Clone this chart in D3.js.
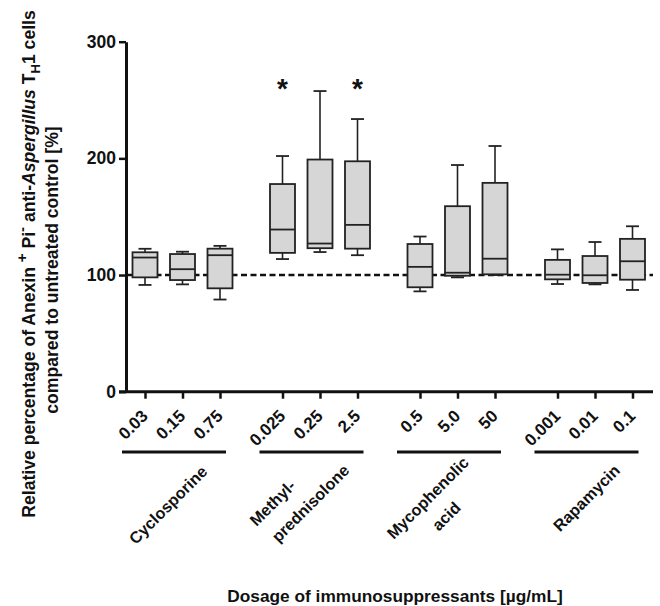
<!DOCTYPE html>
<html>
<head>
<meta charset="utf-8">
<script src="https://cdn.jsdelivr.net/npm/d3@7"></script>
<style>
  body { margin: 0; background: #fff; }
  text { font-family: "Liberation Sans", Arial, sans-serif; font-weight: bold; fill: #111; }
</style>
</head>
<body>
<div class="chart"></div>
<script>
// data
const doses = ['0.03','0.15','0.75','0.025','0.25','2.5','0.5','5.0','50','0.001','0.01','0.1'];
const drugs = [['Cyclosporine'], ['Methyl-','prednisolone'], ['Mycophenolic','acid'], ['Rapamycin']];
const whiskerLow  = [91.5, 92, 79,   113.7, 119.7, 117,   86, 98, 100,      92.3, 92, 87.2];
const q1          = [98, 95.7, 88.6, 119, 123, 122.6,     89.5, 99.4, 100.6, 96.3, 93.2, 96];
const medians     = [115, 105, 117,  139, 127, 143,       107, 102, 114,    100.3, 99.8, 111.8];
const q3          = [119.5, 118, 122.6, 178, 199, 197.5,  126.6, 159, 179,  113, 116.3, 131];
const whiskerHigh = [122.5, 120, 125, 202, 257.7, 233.7,  133, 194.3, 210.6, 122, 128.3, 141.8];
const significant = ['0.025', '2.5'];
const yTicks = [0, 100, 200, 300];
const controlLevel = 100;

// label placement for the drug names (offset from group centre, anchor)
const drugLabelPos = [
    {dx: -2, y: 509, anchor: 'middle'},
    {dx: -55, y: 527, anchor: 'start'},
    {dx: -8, y: 511, anchor: 'middle'},
    {dx: 4, y: 502, anchor: 'middle'}
];

const width = 660, height = 606;
const boxW = 25, capW = 13;

const svg = d3.select('.chart').append('svg')
    .attr('width', width)
    .attr('height', height)

const slot = i => Math.floor(i/3)*(3 + 2/3) + (i%3);
const x = d3.scaleLinear().domain([0, 13]).range([145, 632.5]);
const y = d3.scaleLinear().domain([0, 300]).range([391.7, 41.7]);

const rows = doses.map((d,i) => ({dose: d, i: i, lo: whiskerLow[i], q1: q1[i], med: medians[i], q3: q3[i], hi: whiskerHigh[i]}));

// reference line at 100%
svg.append('line')
    .attr('x1', 127).attr('x2', 653)
    .attr('y1', y(controlLevel)).attr('y2', y(controlLevel))
    .attr('stroke', '#111')
    .attr('stroke-width', 2.4)
    .attr('stroke-dasharray', '6,3.5');

// boxes
const box = svg.selectAll('.box')
    .data(rows)
    .enter()
    .append('g')
    .attr('class', 'box')
    .attr('transform', d => `translate(${x(slot(d.i))},0)`);

box.append('line')
    .attr('y1', d => y(d.hi)).attr('y2', d => y(d.q3))
    .attr('stroke', '#222').attr('stroke-width', 1.6);
box.append('line')
    .attr('y1', d => y(d.lo)).attr('y2', d => y(d.q1))
    .attr('stroke', '#222').attr('stroke-width', 1.6);
box.selectAll('.cap')
    .data(d => [d.hi, d.lo])
    .enter()
    .append('line')
    .attr('x1', -capW/2).attr('x2', capW/2)
    .attr('y1', v => y(v)).attr('y2', v => y(v))
    .attr('stroke', '#222').attr('stroke-width', 1.8);
box.append('rect')
    .attr('x', -boxW/2)
    .attr('width', boxW)
    .attr('y', d => y(d.q3))
    .attr('height', d => y(d.q1) - y(d.q3))
    .attr('fill', '#d6d6d6')
    .attr('stroke', '#222')
    .attr('stroke-width', 1.8);
box.append('line')
    .attr('x1', -boxW/2).attr('x2', boxW/2)
    .attr('y1', d => y(d.med)).attr('y2', d => y(d.med))
    .attr('stroke', '#222').attr('stroke-width', 1.8);

// significance stars
svg.selectAll('.star')
    .data(rows.filter(d => significant.includes(d.dose)))
    .enter()
    .append('text')
    .attr('class', 'star')
    .attr('x', d => x(slot(d.i)))
    .attr('y', y(265) + 15)
    .attr('text-anchor', 'middle')
    .attr('font-size', 28)
    .text('*');

// y axis
const yAxis = svg.append('g')
    .attr('transform', 'translate(126,0)')
    .call(d3.axisLeft(y).tickValues(yTicks).tickSize(7).tickSizeOuter(0).tickPadding(3));
yAxis.select('.domain').attr('stroke', '#111').attr('stroke-width', 3);
yAxis.selectAll('.tick line').attr('stroke', '#111').attr('stroke-width', 2.5);
yAxis.selectAll('.tick text')
    .attr('font-size', 17.5)
    .attr('font-family', '"Liberation Sans", Arial, sans-serif')
    .attr('font-weight', 'bold')
    .attr('fill', '#111');

// x axis
svg.append('line')
    .attr('x1', 119).attr('x2', 653)
    .attr('y1', y(0)).attr('y2', y(0))
    .attr('stroke', '#111').attr('stroke-width', 3);
const xAxis = svg.append('g')
    .attr('transform', `translate(0,${y(0)})`)
    .call(d3.axisBottom(x).tickValues(doses.map((d,i) => slot(i))).tickSize(7).tickFormat(''));
xAxis.select('.domain').remove();
xAxis.selectAll('.tick line').attr('stroke', '#111').attr('stroke-width', 2.5);

svg.selectAll('.dose')
    .data(rows)
    .enter()
    .append('text')
    .attr('class', 'dose')
    .attr('transform', d => `translate(${x(slot(d.i)) + 4},417) rotate(-45)`)
    .attr('text-anchor', 'end')
    .attr('font-size', 17)
    .text(d => d.dose);

// drug groups
const grp = svg.selectAll('.grp')
    .data(drugs)
    .enter()
    .append('g')
    .attr('class', 'grp');
grp.append('line')
    .attr('x1', (d,g) => x(slot(g*3)) - 23)
    .attr('x2', (d,g) => x(slot(g*3+2)) + 6)
    .attr('y1', 452).attr('y2', 452)
    .attr('stroke', '#111').attr('stroke-width', 3);
grp.append('text')
    .attr('transform', (d,g) => {
        const p = drugLabelPos[g];
        const cx = (x(slot(g*3)) - 23 + x(slot(g*3+2)) + 6)/2 + p.dx;
        return `translate(${cx},${p.y}) rotate(-45)`;
    })
    .attr('text-anchor', (d,g) => drugLabelPos[g].anchor)
    .attr('font-size', 16.2)
    .selectAll('tspan')
    .data((d,g) => d.map((t,k) => ({t: t, k: k, n: d.length, start: drugLabelPos[g].anchor === 'start'})))
    .enter()
    .append('tspan')
    .attr('x', d => d.start ? d.k*4 : 0)
    .attr('y', d => d.start ? d.k*27 : (d.k - (d.n-1)/2)*26)
    .text(d => d.t);

// axis titles
svg.append('text')
    .attr('x', 395).attr('y', 602)
    .attr('text-anchor', 'middle')
    .attr('font-size', 17.3)
    .text('Dosage of immunosuppressants [\u00b5g/mL]');

const yt = svg.append('text')
    .attr('transform', 'translate(35,264) rotate(-90)')
    .attr('text-anchor', 'middle')
    .attr('font-size', 17.6);
yt.append('tspan').text('Relative percentage of Anexin ');
yt.append('tspan').attr('dy', -8).attr('font-size', 15).text('+');
yt.append('tspan').attr('dy', 8).text(' Pi');
yt.append('tspan').attr('dy', -8).attr('font-size', 15).text('-');
yt.append('tspan').attr('dy', 8).text(' anti-');
yt.append('tspan').attr('font-style', 'italic').text('Aspergillus');
yt.append('tspan').text(' T');
yt.append('tspan').attr('dy', 5).attr('font-size', 13).text('H');
yt.append('tspan').attr('dy', -5).text('1 cells');

svg.append('text')
    .attr('transform', 'translate(58,270) rotate(-90)')
    .attr('text-anchor', 'middle')
    .attr('font-size', 17.6)
    .text('compared to untreated control [%]');
</script>
</body>
</html>
